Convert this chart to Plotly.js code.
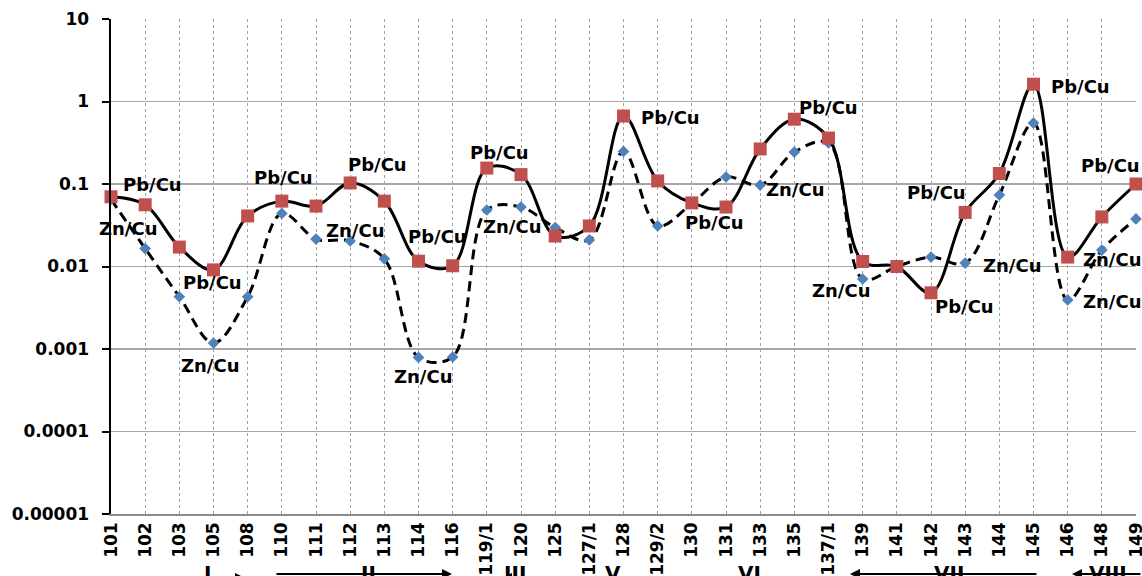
<!DOCTYPE html>
<html>
<head>
<meta charset="utf-8">
<script src="https://cdn.plot.ly/plotly-3.0.1.min.js"></script>
<style>
html, body { margin:0; padding:0; width:1142px; height:576px; overflow:hidden; background:#fff; }
#chart { width:1142px; height:600px; }
</style>
</head>
<body>
<div id="chart"></div>
<script>
// ---- data ----
var categories = ['101','102','103','105','108','110','111','112','113','114','116','119/1','120','125','127/1','128','129/2','130','131','133','135','137/1','139','141','142','143','144','145','146','148','149'];
var pbCu = [0.070, 0.056, 0.0172, 0.0091, 0.041, 0.062, 0.054, 0.103, 0.062, 0.0116, 0.0102, 0.156, 0.130, 0.0234, 0.031, 0.667, 0.109, 0.059, 0.0526, 0.266, 0.61, 0.361, 0.0115, 0.0100, 0.0048, 0.0452, 0.134, 1.62, 0.0130, 0.0399, 0.100];
var znCu = [0.065, 0.0165, 0.0043, 0.00118, 0.0043, 0.0440, 0.0215, 0.0204, 0.0124, 0.00079, 0.00080, 0.0484, 0.0526, 0.0296, 0.0210, 0.248, 0.031, 0.058, 0.1216, 0.097, 0.244, 0.314, 0.00705, 0.0100, 0.0130, 0.0110, 0.0736, 0.548, 0.00393, 0.0158, 0.0377];
var yTickVals = [0.00001, 0.0001, 0.001, 0.01, 0.1, 1, 10];
var yTickText = ['0.00001', '0.0001', '0.001', '0.01', '0.1', '1', '10'];
var groupNames = ['I', 'II', 'III', 'V', 'VI', 'VII', 'VIII'];

// ---- label placement (category index, pixel offsets) ----
var pbLabelPts = [[0,41,-12],[3,-1,13],[5,2,-24],[7,27,-18],[9,19,-25],[11,13,-16],[15,47,1],[17,23,20],[20,34,-12],[25,-29,-20],[24,33,14],[27,47,2],[30,-26,-19]];
var znLabelPts = [[0,17,29],[3,-4,22],[7,5,-10],[9,4,19],[12,-9,19],[19,35,4],[25,47,2],[22,-22,11],[29,10,9],[28,44,2]];

var FONT = 'DejaVu Sans, Verdana, sans-serif';
var annotations = [];
function addLabels(pts, vals, txt) {
  pts.forEach(function (p) {
    annotations.push({
      xref: 'x', yref: 'y', x: p[0], y: Math.log10(vals[p[0]]),
      xshift: p[1], yshift: -p[2], text: txt, showarrow: false,
      xanchor: 'center', yanchor: 'middle',
      font: { family: FONT, size: 18, color: '#000', weight: 'bold' }
    });
  });
}
addLabels(pbLabelPts, pbCu, 'Pb/Cu');
addLabels(znLabelPts, znCu, 'Zn/Cu');

// group labels below axis (positions in category-index units)
var groupX = [2.81, 7.53, 11.82, 14.69, 18.70, 24.52, 29.18];
function py2paper(py) { return (514 - py) / 495; }
groupNames.forEach(function (g, i) {
  annotations.push({
    xref: 'x', yref: 'paper', x: groupX[i], y: py2paper(559), text: g, showarrow: false,
    xanchor: 'center', yanchor: 'top',
    font: { family: FONT, size: 20, color: '#000', weight: 'bold' }
  });
});
// arrows [headPx, tailPx, py]
var arrows = [[245, 130, 578], [452, 275, 574], [502, 548, 578], [850, 1038, 574], [1072, 1150, 574]];
arrows.forEach(function (a) {
  annotations.push({
    xref: 'paper', yref: 'paper', x: (a[0] - 111) / 1025, y: py2paper(a[2]),
    ax: a[1] - a[0], ay: 0, text: '', showarrow: true,
    arrowhead: 2, arrowsize: 1, arrowwidth: 2, arrowcolor: '#000'
  });
});

var traces = [
  {
    type: 'scatter', mode: 'lines+markers', name: 'Zn/Cu',
    x: categories, y: znCu, cliponaxis: false,
    line: { color: '#000', width: 3, dash: '10px,6px', shape: 'spline', smoothing: 1 },
    marker: { symbol: 'diamond', size: 9, color: '#4F81BD', line: { width: 0 } }
  },
  {
    type: 'scatter', mode: 'lines+markers', name: 'Pb/Cu',
    x: categories, y: pbCu, cliponaxis: false,
    line: { color: '#000', width: 3, shape: 'spline', smoothing: 1 },
    marker: { symbol: 'square', size: 13, color: '#C0504D', line: { width: 0 } }
  }
];

var layout = {
  width: 1142, height: 600,
  margin: { l: 111, r: 6, t: 19, b: 86, pad: 0 },
  paper_bgcolor: '#fff', plot_bgcolor: '#fff',
  showlegend: false,
  font: { family: FONT, color: '#000' },
  xaxis: {
    type: 'category', range: [0, 30], automargin: false,
    tickangle: -90, tickfont: { family: FONT, size: 17, color: '#000', weight: 'bold' },
    showgrid: true, griddash: 'dot', gridcolor: '#a0a0a0', gridwidth: 1,
    showline: true, linecolor: '#8c8c8c', linewidth: 1.5,
    ticks: '', zeroline: false
  },
  yaxis: {
    type: 'log', range: [-5, 1], automargin: false,
    tickvals: yTickVals, ticktext: yTickText,
    tickfont: { family: FONT, size: 17, color: '#000', weight: 'bold' },
    ticks: 'outside', ticklen: 7, tickwidth: 2, tickcolor: '#000',
    ticklabelstandoff: 9,
    showline: true, linecolor: '#000', linewidth: 2.5,
    showgrid: true, gridcolor: '#a6a6a6', gridwidth: 1.5, zeroline: false
  },
  annotations: annotations
};

Plotly.newPlot('chart', traces, layout, { displayModeBar: false, staticPlot: true });
</script>
</body>
</html>
